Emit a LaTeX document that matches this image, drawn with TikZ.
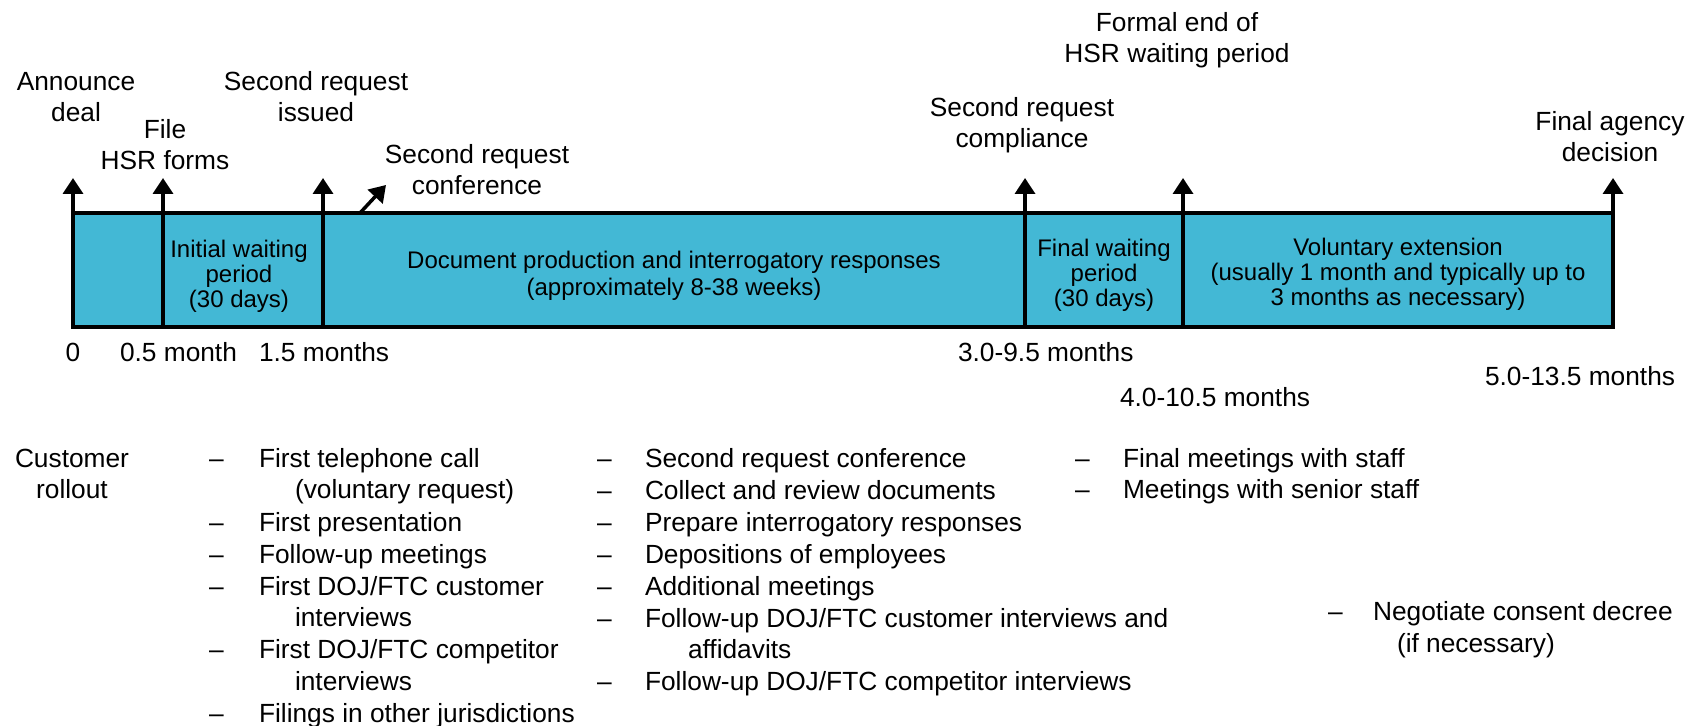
\documentclass[tikz,border=0pt]{standalone}
\usepackage{fontspec}
\setmainfont{Liberation Sans}
\usetikzlibrary{arrows.meta}
\definecolor{barfill}{RGB}{67,184,213}
\lineskiplimit=-100pt
\begin{document}
\begin{tikzpicture}[x=0.5pt,y=-0.5pt,
  lbl/.style={align=center, anchor=base, inner sep=0pt, outer sep=0pt, font=\fontsize{13.15}{15.5}\selectfont},
  tlbl/.style={anchor=base west, inner sep=0pt, outer sep=0pt, font=\fontsize{13.15}{15.5}\selectfont},
  seg/.style={draw=black, fill=barfill, line width=1.75pt, inner sep=0pt, outer sep=0pt, minimum height=57pt},
  segtxt/.style={align=center, inner sep=0pt, outer sep=0pt, font=\fontsize{12}{12.4}\selectfont},
  tick/.style={line width=1.75pt, -{Triangle[length=8pt,width=10pt]}},
  itm/.style={anchor=base west, inner sep=0pt, outer sep=0pt, font=\fontsize{13.15}{16}\selectfont},
  dsh/.style={anchor=base west, inner sep=0pt, outer sep=0pt, font=\fontsize{13.15}{16}\selectfont}
]
\useasboundingbox (0,0) rectangle (1700,726);

% timeline bar segments
\node[seg, minimum width=45pt] (s1) at (118,270) {};
\node[seg, minimum width=80pt] (s2) at (243,270) {};
\node[seg, minimum width=351pt] (s3) at (674,270) {};
\node[seg, minimum width=79pt] (s4) at (1104,270) {};
\node[seg, minimum width=215pt] (s5) at (1398,270) {};

% segment texts
\node[segtxt] (x2) at (239,276) {Initial waiting\\period\\(30 days)};
\node[segtxt, font=\fontsize{12}{13.5}\selectfont] (x3) at (674,276) {Document production and interrogatory responses\\(approximately 8-38 weeks)};
\node[segtxt] (x4) at (1104,275) {Final waiting\\period\\(30 days)};
\node[segtxt] (x5) at (1398,274) {Voluntary extension\\(usually 1 month and typically up to\\3 months as necessary)};

% arrow tips
\coordinate (t1) at (73,178);
\coordinate (t2) at (163,178);
\coordinate (t3) at (323,178);
\coordinate (t4) at (1025,178);
\coordinate (t5) at (1183,178);
\coordinate (t6) at (1613,178);
\coordinate (cS) at (360,213);
\coordinate (cE) at (386,185);

\draw[tick] (s1.north west) -- (t1);
\draw[tick] (s2.north west) -- (t2);
\draw[tick] (s3.north west) -- (t3);
\draw[tick] (s4.north west) -- (t4);
\draw[tick] (s5.north west) -- (t5);
\draw[tick] (s5.north east) -- (t6);
\draw[tick] (cS) -- (cE);

% event labels (anchored at the baseline of the last line)
\node[lbl] (lAnn) at (76,122) {Announce\\deal};
\node[lbl] (lFile) at (165,170) {File\\HSR forms};
\node[lbl] (lSRI) at (316,122) {Second request\\issued};
\node[lbl] (lConf) at (477,195) {Second request\\conference};
\node[lbl] (lComp) at (1022,148) {Second request\\compliance};
\node[lbl] (lFormal) at (1177,63) {Formal end of\\HSR waiting period};
\node[lbl] (lFinal) at (1610,162) {Final agency\\decision};

% time labels
\node[lbl] (m0) at (73,362) {0};
\node[tlbl] (m1) at (120,362) {0.5 month};
\node[tlbl] (m2) at (259,362) {1.5 months};
\node[tlbl] (m3) at (958,362) {3.0-9.5 months};
\node[tlbl] (m4) at (1120,407) {4.0-10.5 months};
\node[tlbl] (m5) at (1485,386) {5.0-13.5 months};

% customer rollout
\node[lbl, font=\fontsize{13.15}{15.5}\selectfont] (cr) at (72,498) {Customer\\rollout};

% column 1
\node[dsh] (d1a) at (209,467) {–};
\node[itm] (i1a) at (259,467) {First telephone call};
\node[itm] (i1a2) at (295,498) {(voluntary request)};
\node[dsh] (d1b) at (209,531) {–};
\node[itm] (i1b) at (259,531) {First presentation};
\node[dsh] (d1c) at (209,563) {–};
\node[itm] (i1c) at (259,563) {Follow-up meetings};
\node[dsh] (d1d) at (209,595) {–};
\node[itm] (i1d) at (259,595) {First DOJ/FTC customer};
\node[itm] (i1d2) at (295,626) {interviews};
\node[dsh] (d1e) at (209,658) {–};
\node[itm] (i1e) at (259,658) {First DOJ/FTC competitor};
\node[itm] (i1e2) at (295,690) {interviews};
\node[dsh] (d1f) at (209,722) {–};
\node[itm] (i1f) at (259,722) {Filings in other jurisdictions};

% column 2
\node[dsh] (d2a) at (597,467) {–};
\node[itm] (i2a) at (645,467) {Second request conference};
\node[dsh] (d2b) at (597,499) {–};
\node[itm] (i2b) at (645,499) {Collect and review documents};
\node[dsh] (d2c) at (597,531) {–};
\node[itm] (i2c) at (645,531) {Prepare interrogatory responses};
\node[dsh] (d2d) at (597,563) {–};
\node[itm] (i2d) at (645,563) {Depositions of employees};
\node[dsh] (d2e) at (597,595) {–};
\node[itm] (i2e) at (645,595) {Additional meetings};
\node[dsh] (d2f) at (597,627) {–};
\node[itm] (i2f) at (645,627) {Follow-up DOJ/FTC customer interviews and};
\node[itm] (i2f2) at (688,658) {affidavits};
\node[dsh] (d2g) at (597,690) {–};
\node[itm] (i2g) at (645,690) {Follow-up DOJ/FTC competitor interviews};

% column 3
\node[dsh] (d3a) at (1075,467) {–};
\node[itm] (i3a) at (1123,467) {Final meetings with staff};
\node[dsh] (d3b) at (1075,498) {–};
\node[itm] (i3b) at (1123,498) {Meetings with senior staff};

% column 4
\node[dsh] (d4a) at (1328,620) {–};
\node[itm] (i4a) at (1373,620) {Negotiate consent decree};
\node[itm] (i4a2) at (1397,652) {(if necessary)};
\end{tikzpicture}
\end{document}
